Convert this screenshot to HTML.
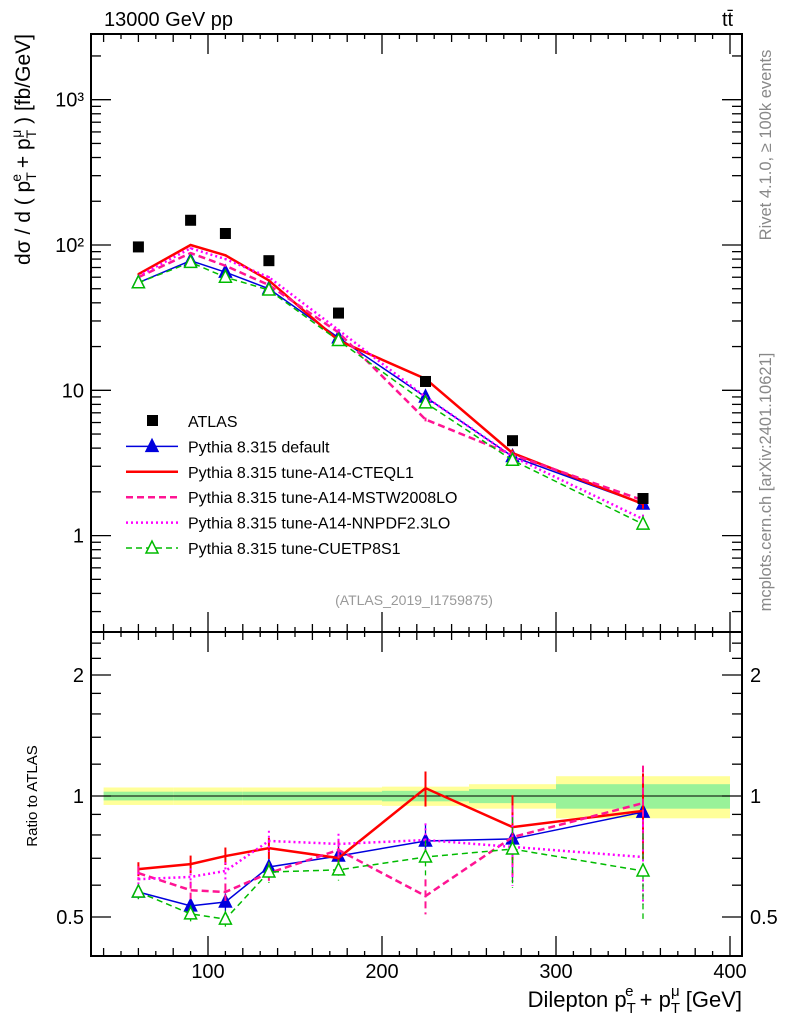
<!DOCTYPE html>
<html><head><meta charset="utf-8"><style>
body{margin:0;background:#fff}
svg{font-family:"Liberation Sans",sans-serif}
</style></head><body>
<svg id="c" width="786" height="1024" viewBox="0 0 786 1024" xmlns="http://www.w3.org/2000/svg"></svg>
<script>
const xCenters=[60,90,110,135,175,225,275,350];
const bandEdges=[40,80,100,120,150,200,250,300,400];
const bandYellow=[0.05,0.05,0.05,0.05,0.05,0.055,0.07,0.12];
const bandGreen=[0.025,0.025,0.025,0.025,0.025,0.03,0.04,0.07];
const atlas=[97,148,120,78,34,11.5,4.5,1.8];
const mainDefault=[55,78,65,50,23,9,3.5,1.65];
const mainCTEQ=[63,100,85,57,22,12,3.7,1.65];
const mainMSTW=[60,88,72,53,25,6.3,3.6,1.75];
const mainNNPDF=[61,95,80,60,26,9,3.5,1.3];
const mainCUETP=[55,76,60,49,22,8.2,3.3,1.2];
const ratioDefault=[0.577,0.533,0.545,0.666,0.709,0.773,0.782,0.912];
const ratioCTEQ=[0.658,0.677,0.709,0.742,0.701,1.046,0.837,0.918];
const ratioMSTW=[0.643,0.583,0.577,0.643,0.734,0.564,0.79,0.96];
const ratioNNPDF=[0.621,0.629,0.651,0.773,0.760,0.777,0.747,0.705];
const ratioCUETP=[0.577,0.509,0.494,0.647,0.655,0.705,0.738,0.651];
const relErr=[0.04,0.05,0.05,0.06,0.06,0.1,0.2,0.24];
const mainTicks=[1000,100,10,1];
const mainTickLabels=["10³","10²","10","1"];
const ratioTicks=[2,1,0.5];
const ratioTickLabels=["2","1","0.5"];
const xTicks=[100,200,300,400];

const L=91,R=742,T=34,M=632,B=956;
const sx=v=>34+1.74*v;
const sy=v=>245-145.3*(Math.log10(v)-2);
const ry=v=>796-402*Math.log10(v);
const svg=document.getElementById('c');
const NS='http://www.w3.org/2000/svg';
function el(tag,attrs,parent){const e=document.createElementNS(NS,tag);for(const k in attrs)e.setAttribute(k,attrs[k]);(parent||svg).appendChild(e);return e;}
function txt(s,x,y,attrs){const e=el('text',Object.assign({x:x,y:y,'font-size':18},attrs||{}));e.textContent=s;return e;}

for(let i=0;i<bandEdges.length-1;i++){
  const x0=sx(bandEdges[i]),x1=sx(bandEdges[i+1]);
  const y=el('rect',{x:x0,y:ry(1+bandYellow[i]),width:x1-x0,height:ry(1-bandYellow[i])-ry(1+bandYellow[i]),fill:'#ffff99'});
  
  
  const g=el('rect',{x:x0,y:ry(1+bandGreen[i]),width:x1-x0,height:ry(1-bandGreen[i])-ry(1+bandGreen[i]),fill:'#99f299'});
  
  
}
el('line',{x1:L,x2:R,y1:ry(1),y2:ry(1),stroke:'#000','stroke-width':1});

const f1=el('rect',{x:L,y:T,width:R-L,height:M-T,fill:'none',stroke:'#000','stroke-width':2});

const f2=el('rect',{x:L,y:M,width:R-L,height:B-M,fill:'none',stroke:'#000','stroke-width':2});


for(let v=40;v<=400;v+=10){
  const X=sx(v);const maj=v%100===0;const len=maj?20:(v%20===0?8:5);
  [[T,1],[M,-1],[M,1],[B,-1]].forEach(([y0,d])=>el('line',{x1:X,x2:X,y1:y0,y2:y0+d*len,stroke:'#000','stroke-width':1.3}));
}
xTicks.forEach(v=>{const t=txt(String(v),sx(v),978,{'font-size':20,'text-anchor':'middle'});});

for(let d=-1;d<=3;d++){for(let m=1;m<10;m++){const v=m*Math.pow(10,d);const Y=sy(v);if(Y<T||Y>M)continue;const len=m===1?20:10;
  el('line',{x1:L,x2:L+len,y1:Y,y2:Y,stroke:'#000','stroke-width':1.3});el('line',{x1:R,x2:R-len,y1:Y,y2:Y,stroke:'#000','stroke-width':1.3});}}
mainTicks.forEach((v,i)=>{const t=txt(mainTickLabels[i],84,sy(v)+7,{'font-size':20,'text-anchor':'end'});});
[0.4,0.5,0.6,0.7,0.8,0.9,1,2].forEach(v=>{const Y=ry(v);const len=(v===1||v===2||v===0.5)?20:10;
  el('line',{x1:L,x2:L+len,y1:Y,y2:Y,stroke:'#000','stroke-width':1.3});el('line',{x1:R,x2:R-len,y1:Y,y2:Y,stroke:'#000','stroke-width':1.3});});
[1.2,1.4,1.6,1.8,2.2,2.4].forEach(v=>{const Y=ry(v);el('line',{x1:L,x2:L+10,y1:Y,y2:Y,stroke:'#000','stroke-width':1.3});el('line',{x1:R,x2:R-10,y1:Y,y2:Y,stroke:'#000','stroke-width':1.3});});
ratioTicks.forEach((v,i)=>{const a=txt(ratioTickLabels[i],84,ry(v)+7,{'font-size':20,'text-anchor':'end'});
  const b=txt(ratioTickLabels[i],750,ry(v)+7,{'font-size':20});});

const series=[
 {name:'default',main:mainDefault,ratio:ratioDefault,color:'#0000dd',w:1.5,dash:'',marker:'tri-fill'},
 {name:'cteql1',main:mainCTEQ,ratio:ratioCTEQ,color:'#ff0000',w:2.5,dash:'',marker:'none'},
 {name:'mstw',main:mainMSTW,ratio:ratioMSTW,color:'#ff1493',w:2.5,dash:'7,4',marker:'none'},
 {name:'nnpdf',main:mainNNPDF,ratio:ratioNNPDF,color:'#ff00ff',w:2.5,dash:'2,3',marker:'none'},
 {name:'cuetp8s1',main:mainCUETP,ratio:ratioCUETP,color:'#00bb00',w:1.5,dash:'6,4',marker:'tri-open'}];
function tri(x,y,c,fill,name){const p=el('polygon',{points:`${x},${y-7} ${x-6},${y+5} ${x+6},${y+5}`,fill:fill?c:'#fff',stroke:c,'stroke-width':1.5});}
series.forEach(s=>{
  [[s.main,sy,0.3],[s.ratio,ry,1]].forEach(([arr,f,k],pi)=>{
    arr.forEach((v,i)=>{const e=v*relErr[i]*k;const X=sx(xCenters[i]);
      const eb=el('line',{x1:X,x2:X,y1:f(v+e),y2:f(Math.max(v-e,0.01)),stroke:s.color,'stroke-width':s.w>2?2:1.3,'stroke-dasharray':s.dash});
      });
    const pl=el('polyline',{points:arr.map((v,i)=>sx(xCenters[i])+','+f(v)).join(' '),fill:'none',stroke:s.color,'stroke-width':s.w,'stroke-dasharray':s.dash});
    
    if(s.marker!=='none')arr.forEach((v,i)=>tri(sx(xCenters[i]),f(v),s.color,s.marker==='tri-fill',s.name+'-marker'));
  });
});
atlas.forEach((v,i)=>{const r=el('rect',{x:sx(xCenters[i])-5.5,y:sy(v)-5.5,width:11,height:11,fill:'#000'});});

const leg=[['ATLAS','sq'],['Pythia 8.315 default',0],['Pythia 8.315 tune-A14-CTEQL1',1],['Pythia 8.315 tune-A14-MSTW2008LO',2],['Pythia 8.315 tune-A14-NNPDF2.3LO',3],['Pythia 8.315 tune-CUETP8S1',4]];
leg.forEach((l,i)=>{const y=421+i*25.4;const g=el('g',{});
  if(l[1]==='sq')el('rect',{x:147,y:y-6,width:11,height:11,fill:'#000'},g);
  else{const s=series[l[1]];el('line',{x1:126,x2:178,y1:y,y2:y,stroke:s.color,'stroke-width':s.w,'stroke-dasharray':s.dash},g);
    if(s.marker!=='none'){el('polygon',{points:`152,${y-7} 146,${y+5} 158,${y+5}`,fill:s.marker==='tri-fill'?s.color:'#fff',stroke:s.color,'stroke-width':1.5},g);}}
  const t=el('text',{x:188,y:y+6,'font-size':16},g);t.textContent=l[0];});

let t;
t=txt('13000 GeV pp',104,26,{'font-size':20});
t=txt('tt̄',722,26,{'font-size':20});
t=txt('(ATLAS_2019_I1759875)',414,605,{'font-size':14,fill:'#999','text-anchor':'middle'});
t=el('text',{x:742,y:1007,'font-size':22,'text-anchor':'end'});
t.innerHTML='Dilepton p<tspan font-size="15" dy="6">T</tspan><tspan font-size="15" dx="-9" dy="-17">e</tspan><tspan dy="11"> + p</tspan><tspan font-size="15" dy="6">T</tspan><tspan font-size="15" dx="-9" dy="-17">μ</tspan><tspan dy="11"> [GeV]</tspan>';
t=el('text',{x:0,y:0,'font-size':21,'text-anchor':'end',transform:'translate(30,34) rotate(-90)'});
t.innerHTML='dσ / d ( p<tspan font-size="14" dy="6">T</tspan><tspan font-size="14" dx="-8" dy="-15">e</tspan><tspan dy="9"> + p</tspan><tspan font-size="14" dy="6">T</tspan><tspan font-size="14" dx="-8" dy="-15">μ</tspan><tspan dy="9"> ) [fb/GeV]</tspan>';
t=el('text',{x:0,y:0,'font-size':15,'text-anchor':'middle',transform:'translate(37,796) rotate(-90)'});t.textContent='Ratio to ATLAS';
t=el('text',{x:0,y:0,'font-size':16.5,fill:'#888','text-anchor':'middle',transform:'translate(771,145) rotate(-90)'});t.textContent='Rivet 4.1.0, ≥ 100k events';
t=el('text',{x:0,y:0,'font-size':16.5,fill:'#888','text-anchor':'middle',transform:'translate(771,482) rotate(-90)'});t.textContent='mcplots.cern.ch [arXiv:2401.10621]';
</script>
</body></html>
